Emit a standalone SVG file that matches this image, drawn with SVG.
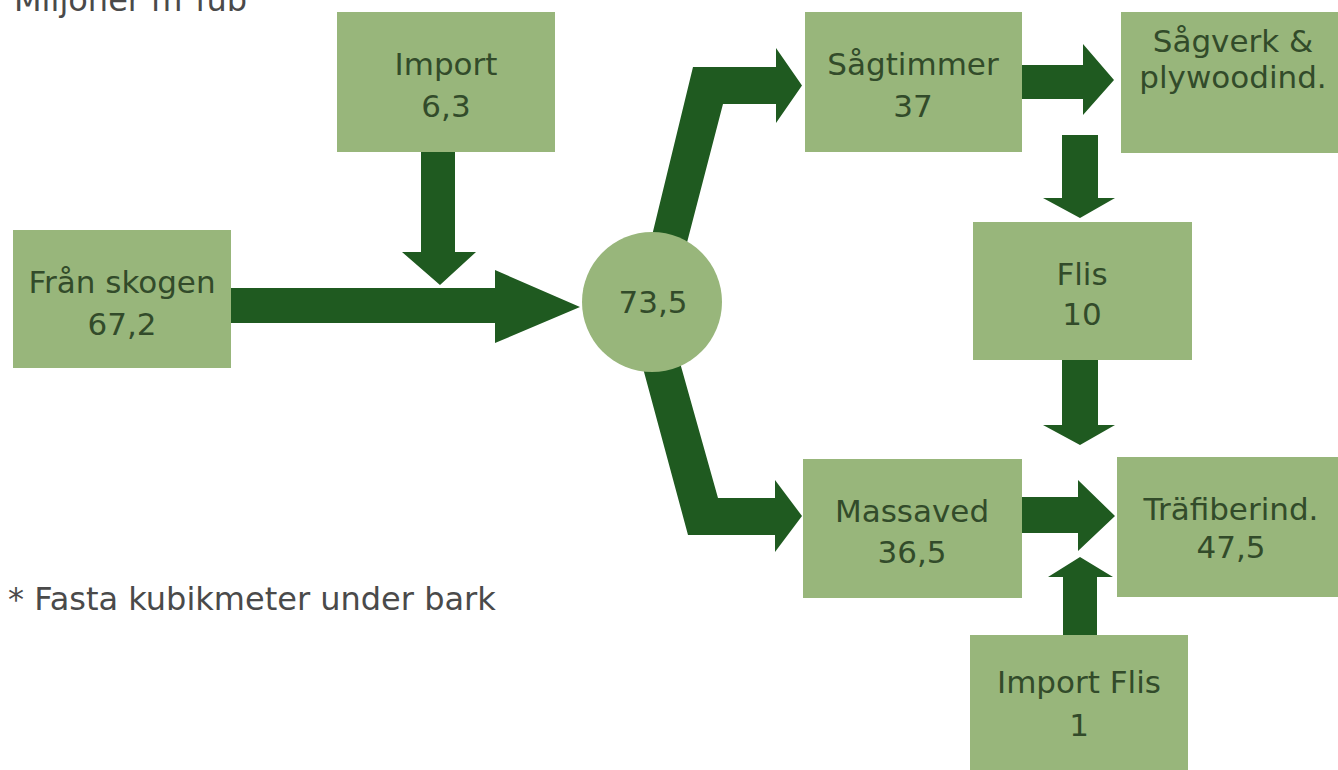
<svg xmlns="http://www.w3.org/2000/svg" width="1338" height="770" viewBox="0 0 1338 770">
<style>
.box{fill:#98b67b;}
.arr{fill:#1f5a20;}
.t{font-family:"DejaVu Sans",sans-serif;font-size:31px;fill:#324b2a;text-anchor:middle;}
.note{font-family:"DejaVu Sans",sans-serif;font-size:32px;fill:#4a4a4a;}
</style>
<rect width="1338" height="770" fill="#ffffff"/>
<text class="note" x="14" y="11">Miljoner m³fub</text>
<text class="note" x="8" y="610">* Fasta kubikmeter under bark</text>
<g id="connectors">
  <polygon class="arr" points="231,288 495,288 495,270 580,307 495,343 495,323 231,323"/>
  <polygon class="arr" points="421,152 455,152 455,252 476,252 440,285 402,252 421,252"/>
  <polygon class="arr" points="640,285 693,67 776,67 776,48 802,85.5 776,123 776,104 723,104 676,285"/>
  <polygon class="arr" points="630,320 668,320 718,498 775,498 775,480 802,516 775,552 775,535 688,535"/>
  <polygon class="arr" points="1022,65 1083,65 1083,44 1114,80 1083,115 1083,99 1022,99"/>
  <polygon class="arr" points="1062,135 1098,135 1098,198 1115,198 1080,218 1043,198 1062,198"/>
  <polygon class="arr" points="1062,360 1098,360 1098,425 1115,425 1080,445 1043,425 1062,425"/>
  <polygon class="arr" points="1022,497 1078,497 1078,480 1115,516 1078,551 1078,533 1022,533"/>
  <polygon class="arr" points="1063,635 1097,635 1097,577 1113,577 1080,557 1048,577 1063,577"/>
</g>
<g id="import">
  <rect class="box" x="337" y="12" width="218" height="140"/>
  <text class="t" x="446" y="75">Import</text>
  <text class="t" x="446" y="117">6,3</text>
</g>
<g id="fran-skogen">
  <rect class="box" x="13" y="230" width="218" height="138"/>
  <text class="t" x="122" y="293">Från skogen</text>
  <text class="t" x="122" y="335">67,2</text>
</g>
<g id="center">
  <circle class="box" cx="652" cy="302" r="70"/>
  <text class="t" x="653" y="313">73,5</text>
</g>
<g id="sagtimmer">
  <rect class="box" x="805" y="12" width="217" height="140"/>
  <text class="t" x="913" y="75">Sågtimmer</text>
  <text class="t" x="913" y="117">37</text>
</g>
<g id="sagverk">
  <rect class="box" x="1121" y="12" width="224" height="141"/>
  <text class="t" x="1233" y="52">Sågverk &amp;</text>
  <text class="t" x="1233" y="88">plywoodind.</text>
</g>
<g id="flis">
  <rect class="box" x="973" y="222" width="219" height="138"/>
  <text class="t" x="1082" y="285">Flis</text>
  <text class="t" x="1082" y="325">10</text>
</g>
<g id="massaved">
  <rect class="box" x="803" y="459" width="219" height="139"/>
  <text class="t" x="912" y="522">Massaved</text>
  <text class="t" x="912" y="563">36,5</text>
</g>
<g id="trafiber">
  <rect class="box" x="1117" y="457" width="228" height="140"/>
  <text class="t" x="1231" y="520">Träfiberind.</text>
  <text class="t" x="1231" y="558">47,5</text>
</g>
<g id="import-flis">
  <rect class="box" x="970" y="635" width="218" height="140"/>
  <text class="t" x="1079" y="693">Import Flis</text>
  <text class="t" x="1079" y="736">1</text>
</g>
</svg>
